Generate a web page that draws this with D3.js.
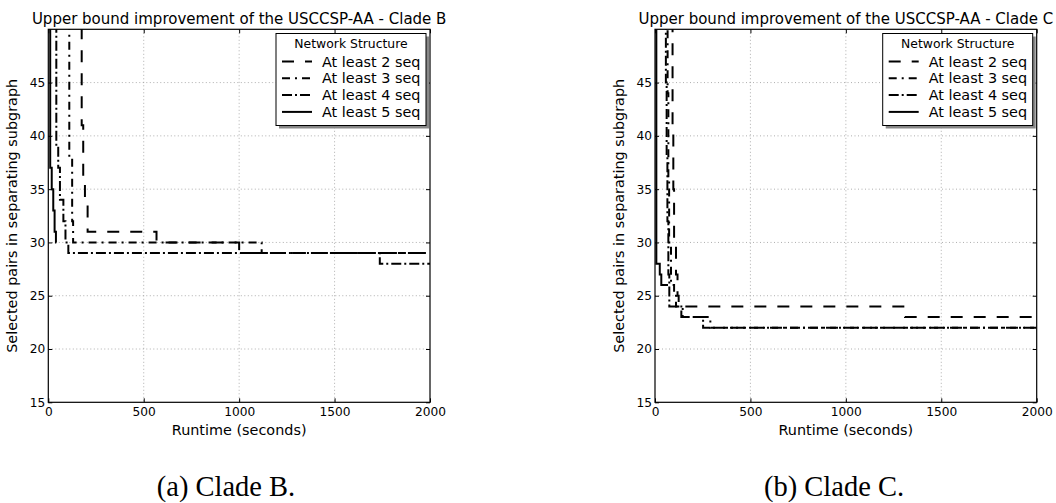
<!DOCTYPE html>
<html>
<head>
<meta charset="utf-8">
<script src="https://cdn.jsdelivr.net/npm/d3@7"></script>
<style>
  html, body { margin: 0; padding: 0; background: #fff; }
  svg { display: block; }
</style>
</head>
<body>
<svg id="chart" width="1056" height="503"></svg>
<script>
// ---------------- data ----------------
const xTicks = [0, 500, 1000, 1500, 2000];
const yTicks = [15, 20, 25, 30, 35, 40, 45];
const seriesNames = ["At least 2 seq", "At least 3 seq", "At least 4 seq", "At least 5 seq"];
const legendTitle = "Network Structure";
const titles = ["Upper bound improvement of the USCCSP-AA - Clade B",
                "Upper bound improvement of the USCCSP-AA - Clade C"];
const captions = ["(a) Clade B.", "(b) Clade C."];
const xLabel = "Runtime (seconds)";
const yLabel = "Selected pairs in separating subgraph";

// [runtime (s), upper bound] step points - Clade B
const cladeB_seq2 = [[0, 60], [175, 41], [183, 35.5], [192, 34], [206, 31], [567, 30], [1000, 29], [2000, 29]];
const cladeB_seq3 = [[0, 60], [110, 38], [125, 32], [130, 30], [1118, 29], [2000, 29]];
const cladeB_seq4 = [[0, 60], [42, 39], [52, 37], [61, 34], [79, 32], [90, 30], [105, 29], [1737, 28], [2000, 28]];
const cladeB_seq5 = [[0, 60], [10, 37], [18, 35], [26, 33], [33, 31], [40, 30], [42, 30]];

// Clade C
const cladeC_seq2 = [[0, 60], [92, 41], [96, 35], [100, 30], [110, 27], [118, 25], [124, 24], [1310, 23], [2000, 23]];
const cladeC_seq3 = [[0, 60], [66, 44], [70, 36], [74, 30], [84, 26], [100, 25], [110, 24], [145, 23], [290, 22], [2000, 22]];
const cladeC_seq4 = [[0, 60], [57, 45], [61, 38], [65, 32], [70, 27], [75, 24], [138, 23], [252, 22], [2000, 22]];
const cladeC_seq5 = [[0, 60], [7, 28], [25, 27], [33, 26], [68, 26]];

const panels = [
  { series: [cladeB_seq2, cladeB_seq3, cladeB_seq4, cladeB_seq5], x0: 48.3, x1: 430, cap: 226 },
  { series: [cladeC_seq2, cladeC_seq3, cladeC_seq4, cladeC_seq5], x0: 655, x1: 1036.7, cap: 834 }
];
const dashes = ["12,11", "8,5,2,5", "10,3,2,3", null];

// ---------------- drawing ----------------
const SANS = "'DejaVu Sans', sans-serif";
const svg = d3.select("#chart");
svg.append("rect").attr("width", 1056).attr("height", 503).attr("fill", "#fff");

const yTop = 29.3, yBot = 402.3;

panels.forEach((p, pi) => {
  const x = d3.scaleLinear().domain([0, 2000]).range([p.x0, p.x1]);
  const y = d3.scaleLinear().domain([15, 50]).range([yBot, yTop]);
  const g = svg.append("g").style("font-family", SANS);

  // grid
  g.append("g").selectAll("line").data(xTicks.slice(1, -1)).join("line")
    .attr("x1", d => x(d)).attr("x2", d => x(d)).attr("y1", yTop).attr("y2", yBot)
    .attr("stroke", "#9a9a9a").attr("stroke-width", 0.8).attr("stroke-dasharray", "1,2.5");
  g.append("g").selectAll("line").data(yTicks.slice(1)).join("line")
    .attr("x1", p.x0).attr("x2", p.x1).attr("y1", d => y(d)).attr("y2", d => y(d))
    .attr("stroke", "#9a9a9a").attr("stroke-width", 0.8).attr("stroke-dasharray", "1,2.5");

  // clip
  const cid = "clip" + pi;
  svg.append("clipPath").attr("id", cid).append("rect")
    .attr("x", p.x0).attr("y", yTop).attr("width", p.x1 - p.x0).attr("height", yBot - yTop);

  const line = d3.line().x(d => x(d[0])).y(d => y(d[1])).curve(d3.curveStepAfter);
  const lg = g.append("g").attr("clip-path", `url(#${cid})`);
  p.series.forEach((s, i) => {
    lg.append("path").datum(s).attr("d", line)
      .attr("fill", "none").attr("stroke", "#000").attr("stroke-width", 2)
      .attr("stroke-dasharray", dashes[i]);
  });

  // axes (ticks inside)
  const ax = (a) => a.tickSizeInner(-4).tickSizeOuter(0);
  const fmt = d3.format("d");
  const bottom = g.append("g").attr("transform", `translate(0,${yBot})`)
    .call(ax(d3.axisBottom(x).tickValues(xTicks).tickFormat(fmt)).tickPadding(5));
  const left = g.append("g").attr("transform", `translate(${p.x0},0)`)
    .call(ax(d3.axisLeft(y).tickValues(yTicks).tickFormat(fmt)).tickPadding(3));
  const top = g.append("g").attr("transform", `translate(0,${yTop})`)
    .call(ax(d3.axisTop(x).tickValues(xTicks)).tickFormat(""));
  const right = g.append("g").attr("transform", `translate(${p.x1},0)`)
    .call(ax(d3.axisRight(y).tickValues(yTicks)).tickFormat(""));
  [bottom, left, top, right].forEach(a => {
    a.select(".domain").remove();
    a.selectAll("line").attr("stroke", "#000").attr("stroke-width", 1);
    a.selectAll("text").style("font-family", SANS).style("font-size", "12.2px").attr("fill", "#000");
  });

  // frame
  g.append("rect").attr("x", p.x0).attr("y", yTop).attr("width", p.x1 - p.x0).attr("height", yBot - yTop)
    .attr("fill", "none").attr("stroke", "#000").attr("stroke-width", 1.2);

  const cx = (p.x0 + p.x1) / 2;
  // title
  g.append("text").attr("x", cx).attr("y", 24).attr("text-anchor", "middle")
    .style("font-size", "15px").text(titles[pi]);
  // x label
  g.append("text").attr("x", cx).attr("y", 435).attr("text-anchor", "middle")
    .style("font-size", "14.4px").text(xLabel);
  // y label
  g.append("text").attr("transform", `translate(${p.x0 - 31},${(yTop + yBot) / 2}) rotate(-90)`)
    .attr("text-anchor", "middle").style("font-size", "14.4px").text(yLabel);
  // caption
  g.append("text").attr("x", p.cap).attr("y", 496).attr("text-anchor", "middle")
    .style("font-family", "'Liberation Serif', 'DejaVu Serif', serif").style("font-size", "28.5px").text(captions[pi]);

  // legend
  const lx = p.x1 - 154, ly = 33.5, lw = 150, lh = 92;
  const leg = g.append("g");
  leg.append("rect").attr("x", lx + 3).attr("y", ly + 3).attr("width", lw).attr("height", lh)
    .attr("fill", "#888");
  leg.append("rect").attr("x", lx).attr("y", ly).attr("width", lw).attr("height", lh)
    .attr("fill", "#fff").attr("stroke", "#000").attr("stroke-width", 1);
  leg.append("text").attr("x", lx + lw / 2).attr("y", ly + 14).attr("text-anchor", "middle")
    .style("font-size", "12.4px").text(legendTitle);
  seriesNames.forEach((name, i) => {
    const by = ly + 33 + i * 16.8;
    leg.append("line").attr("x1", lx + 6).attr("x2", lx + 36).attr("y1", by - 5).attr("y2", by - 5)
      .attr("stroke", "#000").attr("stroke-width", 2).attr("stroke-dasharray", dashes[i]);
    leg.append("text").attr("x", lx + 46).attr("y", by).style("font-size", "14.4px").text(name);
  });
});
</script>
</body>
</html>
